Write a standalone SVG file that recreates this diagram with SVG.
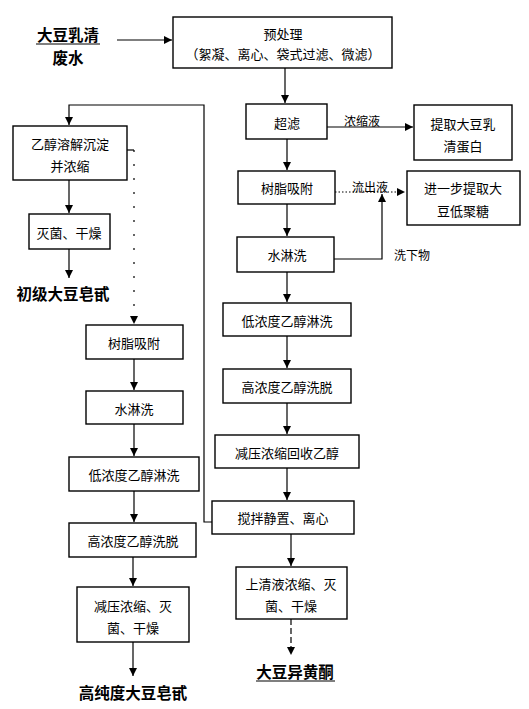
<svg xmlns="http://www.w3.org/2000/svg" width="529" height="709" viewBox="0 0 529 709">
<style>
text{font-family:"Noto Sans CJK SC","Noto Sans CJK JP",sans-serif;font-size:13px;fill:#000;text-anchor:middle;dominant-baseline:central}
.b{font-weight:bold;font-size:15.5px}
.l{font-size:12px}
rect{fill:#fff;stroke:#000;stroke-width:1.4}
.c path,.c line{fill:none;stroke:#000;stroke-width:1.2}
.u{stroke:#000;stroke-width:1.2}
</style>
<defs>
<marker id="ah" markerUnits="userSpaceOnUse" markerWidth="8" markerHeight="8" refX="8" refY="4" orient="auto">
<path d="M0,0 L8,4 L0,8 z" fill="#000"/>
</marker>
</defs>
<rect x="0" y="0" width="529" height="709" style="fill:#fff;stroke:none"/>
<g class="c" id="connectors">
<line x1="117" y1="40" x2="172" y2="40" marker-end="url(#ah)"/>
<line x1="285" y1="68" x2="285" y2="103" marker-end="url(#ah)"/>
<line x1="327" y1="127" x2="413" y2="127" marker-end="url(#ah)"/>
<line x1="287" y1="139" x2="287" y2="170" marker-end="url(#ah)"/>
<line x1="335" y1="192" x2="405" y2="192" stroke-dasharray="1.5,2" marker-end="url(#ah)"/>
<path d="M334,259 H382 V194" marker-end="url(#ah)"/>
<line x1="287" y1="204" x2="287" y2="236" marker-end="url(#ah)"/>
<line x1="287" y1="272" x2="287" y2="302" marker-end="url(#ah)"/>
<line x1="287" y1="336" x2="287" y2="368" marker-end="url(#ah)"/>
<line x1="287" y1="403" x2="287" y2="434" marker-end="url(#ah)"/>
<line x1="287" y1="468" x2="287" y2="500" marker-end="url(#ah)"/>
<line x1="291" y1="534" x2="291" y2="566" marker-end="url(#ah)"/>
<line x1="291" y1="619" x2="291" y2="655" stroke-dasharray="6,3" marker-end="url(#ah)"/>
<path d="M212,522 H204 V105 H69 V125" marker-end="url(#ah)"/>
<line x1="69" y1="180" x2="69" y2="213" marker-end="url(#ah)"/>
<line x1="69" y1="249" x2="69" y2="278" marker-end="url(#ah)"/>
<path d="M127,150 H134"/>
<line x1="134" y1="150" x2="134" y2="324" stroke-dasharray="2,12" marker-end="url(#ah)"/>
<line x1="134" y1="359" x2="134" y2="390" marker-end="url(#ah)"/>
<line x1="134" y1="424" x2="134" y2="456" marker-end="url(#ah)"/>
<line x1="134" y1="491" x2="134" y2="522" marker-end="url(#ah)"/>
<line x1="133" y1="557" x2="133" y2="586" marker-end="url(#ah)"/>
<line x1="133" y1="642" x2="133" y2="676" marker-end="url(#ah)"/>
<text class="l" x="362" y="120">浓缩液</text>
<text class="l" x="370" y="186">流出液</text>
<text class="l" x="412" y="254">洗下物</text>
</g>
<g id="src"><text class="b" x="68" y="34">大豆乳清</text><line class="u" x1="36" y1="44" x2="100" y2="44"/><text class="b" x="68" y="57">废水</text></g>
<g id="pre"><rect x="173" y="17" width="219" height="51"/><text x="283" y="33">预处理</text><text x="283" y="53">（絮凝、离心、袋式过滤、微滤）</text></g>
<g id="uf"><rect x="246" y="104" width="81" height="35"/><text x="287" y="122">超滤</text></g>
<g id="protein"><rect x="414" y="105" width="98" height="55"/><text x="463" y="123">提取大豆乳</text><text x="463" y="145">清蛋白</text></g>
<g id="resinR"><rect x="238" y="171" width="97" height="33"/><text x="287" y="187">树脂吸附</text></g>
<g id="oligo"><rect x="407" y="171" width="113" height="54"/><text x="463" y="187">进一步提取大</text><text x="463" y="210">豆低聚糖</text></g>
<g id="waterR"><rect x="237" y="237" width="97" height="35"/><text x="287" y="254">水淋洗</text></g>
<g id="lowR"><rect x="223" y="303" width="128" height="33"/><text x="287" y="320">低浓度乙醇淋洗</text></g>
<g id="highR"><rect x="223" y="369" width="128" height="34"/><text x="287" y="386">高浓度乙醇洗脱</text></g>
<g id="concR"><rect x="215" y="435" width="144" height="33"/><text x="287" y="452">减压浓缩回收乙醇</text></g>
<g id="stir"><rect x="212" y="501" width="142" height="33"/><text x="283" y="517">搅拌静置、离心</text></g>
<g id="super"><rect x="236" y="567" width="111" height="52"/><text x="291" y="583">上清液浓缩、灭</text><text x="291" y="605">菌、干燥</text></g>
<g id="iso"><text class="b" x="295" y="671">大豆异黄酮</text><line class="u" x1="256" y1="681" x2="335" y2="681"/></g>
<g id="ethanol"><rect x="13" y="126" width="114" height="54"/><text x="70" y="143">乙醇溶解沉淀</text><text x="70" y="165">并浓缩</text></g>
<g id="steril"><rect x="29" y="214" width="81" height="35"/><text x="69" y="232">灭菌、干燥</text></g>
<g id="crude"><text class="b" x="63" y="293">初级大豆皂甙</text></g>
<g id="resinL"><rect x="86" y="325" width="97" height="34"/><text x="134" y="342">树脂吸附</text></g>
<g id="waterL"><rect x="86" y="391" width="97" height="33"/><text x="134" y="408">水淋洗</text></g>
<g id="lowL"><rect x="69" y="457" width="130" height="34"/><text x="134" y="474">低浓度乙醇淋洗</text></g>
<g id="highL"><rect x="69" y="523" width="127" height="34"/><text x="133" y="540">高浓度乙醇洗脱</text></g>
<g id="concL"><rect x="77" y="587" width="112" height="55"/><text x="133" y="605">减压浓缩、灭</text><text x="133" y="627">菌、干燥</text></g>
<g id="pure"><text class="b" x="133" y="692">高纯度大豆皂甙</text></g>
</svg>
